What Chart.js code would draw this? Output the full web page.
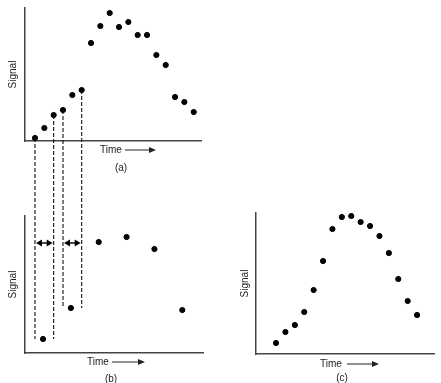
<!DOCTYPE html>
<html>
<head>
<meta charset="utf-8">
<script src="https://cdn.jsdelivr.net/npm/chart.js@4.4.1/dist/chart.umd.min.js"></script>
<style>
  html, body { margin: 0; padding: 0; background: #fff; }
  #wrap { position: relative; width: 441px; height: 383px; }
  #wrap canvas { position: absolute; left: 0; top: 0; }
</style>
</head>
<body>
<div id="wrap">
  <canvas id="chartA" width="441" height="383"></canvas>
  <canvas id="chartB" width="441" height="383"></canvas>
  <canvas id="chartC" width="441" height="383"></canvas>
</div>
<script>
// ---- Data (signal in arbitrary units) ----
const timeA   = [0, 1, 2, 3, 4, 5, 6, 7, 8, 9, 10, 11, 12, 13, 14, 15, 16, 17];
const signalA = [3, 13, 26, 31, 46, 51, 98, 115, 128, 114, 119, 106, 106, 86, 76, 44, 39, 29];

const timeB   = [1, 4, 7, 10, 13, 16];
const signalB = [14, 45, 111, 116, 104, 43];

const timeC   = [0, 1, 2, 3, 4, 5, 6, 7, 8, 9, 10, 11, 12, 13, 14, 15];
const signalC = [11, 22, 29, 42, 64, 93, 125, 137, 138, 132, 128, 118, 101, 75, 53, 39];

// integration windows: [start, end] time index in (a), sampled point in (b)
const windowsA = [[0, 2], [3, 5]];
const windowSample = [0, 1];
const arrowLevelB = 110;

const AXIS_COLOR = '#444';
const FONT = '10px "Liberation Sans", Arial, sans-serif';

function pts(xs, ys) {
  return xs.map((x, i) => ({ x, y: ys[i] }));
}

function hiddenScale(min, max) {
  return {
    type: 'linear', min, max,
    grid: { display: false, drawTicks: false },
    ticks: { display: false },
    border: { display: true, color: AXIS_COLOR, width: 1.5 },
    afterFit: s => { if (s.isHorizontal()) s.height = 0; else s.width = 0; }
  };
}

function arrowHead(ctx, x, y, dir, len = 6, half = 3) {
  ctx.beginPath();
  ctx.moveTo(x, y);
  ctx.lineTo(x - dir * len, y - half);
  ctx.lineTo(x - dir * len, y + half);
  ctx.closePath();
  ctx.fill();
}

// "Signal", "Time ->" and caption text for one panel
function panelLabels(cfg) {
  return {
    id: 'panelLabels',
    afterDraw(chart) {
      const { ctx, chartArea: a } = chart;
      ctx.save();
      ctx.fillStyle = '#222';
      ctx.strokeStyle = '#222';
      ctx.font = FONT;

      ctx.save();
      ctx.translate(a.left + cfg.signalDx, (a.top + a.bottom) / 2);
      ctx.rotate(-Math.PI / 2);
      ctx.textAlign = 'center';
      ctx.textBaseline = 'middle';
      ctx.fillText('Signal', 0, 0);
      ctx.restore();

      ctx.textAlign = 'left';
      ctx.textBaseline = 'middle';
      const ty = a.bottom + cfg.timeDy;
      ctx.fillText('Time', a.left + cfg.timeX, ty);
      ctx.lineWidth = 1;
      ctx.beginPath();
      ctx.moveTo(a.left + cfg.arrowFrom, ty);
      ctx.lineTo(a.left + cfg.arrowTo - 5, ty);
      ctx.stroke();
      arrowHead(ctx, a.left + cfg.arrowTo, ty, 1, 7, 3);

      ctx.textAlign = 'center';
      ctx.fillText(cfg.caption, a.left + cfg.captionX, a.bottom + cfg.captionDy);
      ctx.restore();
    }
  };
}

function makeChart(id, data, xMin, xMax, yMax, padding, labels, extra = []) {
  return new Chart(document.getElementById(id).getContext('2d'), {
    type: 'scatter',
    data: {
      datasets: [{
        data,
        backgroundColor: '#000',
        borderColor: '#000',
        pointRadius: 2.6,
        pointHoverRadius: 2.6
      }]
    },
    options: {
      responsive: false,
      animation: false,
      layout: { padding },
      plugins: { legend: { display: false }, tooltip: { enabled: false } },
      scales: { x: hiddenScale(xMin, xMax), y: hiddenScale(0, yMax) }
    },
    plugins: [panelLabels(labels), ...extra]
  });
}

const chartA = makeChart('chartA', pts(timeA, signalA), -1.07, 17.78, 133,
  { left: 25, top: 8, right: 240, bottom: 242 },
  { signalDx: -12, timeX: 75, timeDy: 9, arrowFrom: 100, arrowTo: 131, caption: '(a)', captionX: 96, captionDy: 27 });

// dashed guides from (a) down into (b), with double arrows
const windowGuides = {
  id: 'windowGuides',
  afterDatasetsDraw(chart) {
    const { ctx } = chart;
    const xa = chartA.scales.x, ya = chartA.scales.y;
    const yb = chart.scales.y;
    ctx.save();
    ctx.strokeStyle = '#111';
    ctx.fillStyle = '#000';
    windowsA.forEach((w, k) => {
      const bottom = yb.getPixelForValue(signalB[windowSample[k]]);
      const xs = w.map(i => xa.getPixelForValue(timeA[i]));
      ctx.lineWidth = 1.1;
      ctx.setLineDash([4, 2]);
      w.forEach((i, j) => {
        ctx.beginPath();
        ctx.moveTo(xs[j], ya.getPixelForValue(signalA[i]));
        ctx.lineTo(xs[j], bottom);
        ctx.stroke();
      });
      ctx.setLineDash([]);
      const ay = yb.getPixelForValue(arrowLevelB);
      ctx.lineWidth = 1.5;
      ctx.beginPath();
      ctx.moveTo(xs[0] + 4, ay);
      ctx.lineTo(xs[1] - 4, ay);
      ctx.stroke();
      arrowHead(ctx, xs[0] + 1, ay, -1, 6, 3.5);
      arrowHead(ctx, xs[1] - 1, ay, 1, 6, 3.5);
    });
    ctx.restore();
  }
};

const chartB = makeChart('chartB', pts(timeB, signalB), -0.94, 18.23, 137,
  { left: 25, top: 216, right: 238, bottom: 30 },
  { signalDx: -12, timeX: 62, timeDy: 9, arrowFrom: 87, arrowTo: 120, caption: '(b)', captionX: 86, captionDy: 26 },
  [windowGuides]);

const chartC = makeChart('chartC', pts(timeC, signalC), -2.13, 16.8, 141,
  { left: 256, top: 213, right: 7, bottom: 29 },
  { signalDx: -11, timeX: 64, timeDy: 10, arrowFrom: 91, arrowTo: 123, caption: '(c)', captionX: 86, captionDy: 24 });
</script>
</body>
</html>
